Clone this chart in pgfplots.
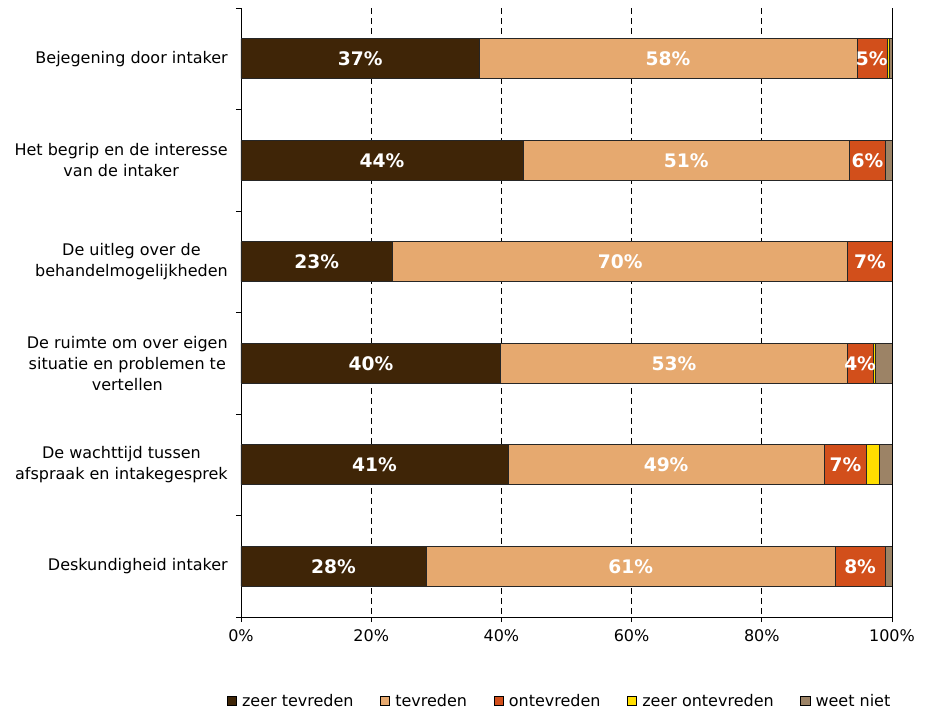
\documentclass[border=0pt]{standalone}
\usepackage{pgfplots}
\pgfplotsset{compat=1.18}
\usepackage{pgfplotstable}
\usepackage{fontspec}
\setmainfont{DejaVu Sans}
\definecolor{czt}{RGB}{63,37,7}
\definecolor{ct}{RGB}{230,169,111}
\definecolor{co}{RGB}{210,79,27}
\definecolor{czo}{RGB}{255,222,0}
\definecolor{cwn}{RGB}{156,131,102}
\pgfplotstableread{
cat zt t o zo wn lzt lt lo
0 36.6 58.0 4.6 0.4 0.4 37 58 5
1 43.3 50.2 5.5 0.0 1.0 44 51 6
2 23.3 69.9 6.8 0.0 0.0 23 70 7
3 39.9 53.2 4.0 0.4 2.5 40 53 4
4 41.0 48.6 6.5 1.9 2.0 41 49 7
5 28.4 62.9 7.6 0.0 1.1 28 61 8
}\data
\begin{document}
\begin{tikzpicture}
\useasboundingbox (-180.75pt,-72pt) rectangle (513.75pt,462.75pt);
\begin{axis}[
  at={(0,0)}, anchor=south west,
  scale only axis, width=488.25pt, height=456.75pt,
  xbar stacked, bar width=0.394,
  y dir=reverse,
  xmin=0, xmax=100, ymin=-0.5, ymax=5.5,
  axis x line*=bottom, axis y line*=left,
  axis line style={-, black, line width=0.6pt},
  tick align=outside,
  major tick length=3.75pt, minor tick length=3.75pt,
  tick style={black, line width=0.6pt},
  xtick={0,20,...,100},
  xticklabel={\pgfmathprintnumber{\tick}\%},
  /pgf/number format/assume math mode=true,
  xmajorgrids=true,
  major grid style={black, line width=0.5pt, dash pattern=on 4.5pt off 3pt},
  extra x ticks={100}, extra x tick labels={},
  extra x tick style={major grid style={solid, black, line width=0.6pt}},
  ytick={0,...,5},
  every major y tick/.append style={draw=none},
  minor ytick={-0.5,0.5,...,5.5},
  yticklabels={
    {Bejegening door intaker},
    {Het begrip en de interesse\\van de intaker},
    {De uitleg over de\\behandelmogelijkheden},
    {De ruimte om over eigen\\situatie en problemen te\\vertellen},
    {De wachttijd tussen\\afspraak en intakegesprek},
    {Deskundigheid intaker}},
  ticklabel style={font=\fontsize{12}{15.75}\selectfont},
  yticklabel style={align=center, inner sep=0pt, xshift=-6pt},
  xticklabel style={yshift=-2pt},
  legend columns=5,
  legend style={at={(0.49,-0.138)}, anchor=center, draw=none,
    font=\fontsize{12}{14}\selectfont,
    /tikz/every even column/.append style={column sep=18pt},
    /tikz/every odd column/.append style={column sep=2pt}},
  legend image code/.code={\draw[#1, draw=black, line width=0.5pt] (0pt,-3.4pt) rectangle (6.8pt,3.4pt);},
  every axis plot/.append style={draw=black!85, line width=0.4pt},
  node near coord style={text=white, anchor=center, font=\fontsize{14}{16}\bfseries},
]
\addplot[fill=czt, nodes near coords={\pgfplotspointmeta\%}, point meta=explicit symbolic]
  table[x=zt, y=cat, meta=lzt]{\data};
\addplot[fill=ct, nodes near coords={\pgfplotspointmeta\%}, point meta=explicit symbolic]
  table[x=t, y=cat, meta=lt]{\data};
\addplot[fill=co, nodes near coords={\pgfplotspointmeta\%}, point meta=explicit symbolic]
  table[x=o, y=cat, meta=lo]{\data};
\addplot[fill=czo] table[x=zo, y=cat]{\data};
\addplot[fill=cwn] table[x=wn, y=cat]{\data};
\legend{zeer tevreden, tevreden, ontevreden, zeer ontevreden, weet niet}
\end{axis}
\end{tikzpicture}
\end{document}
